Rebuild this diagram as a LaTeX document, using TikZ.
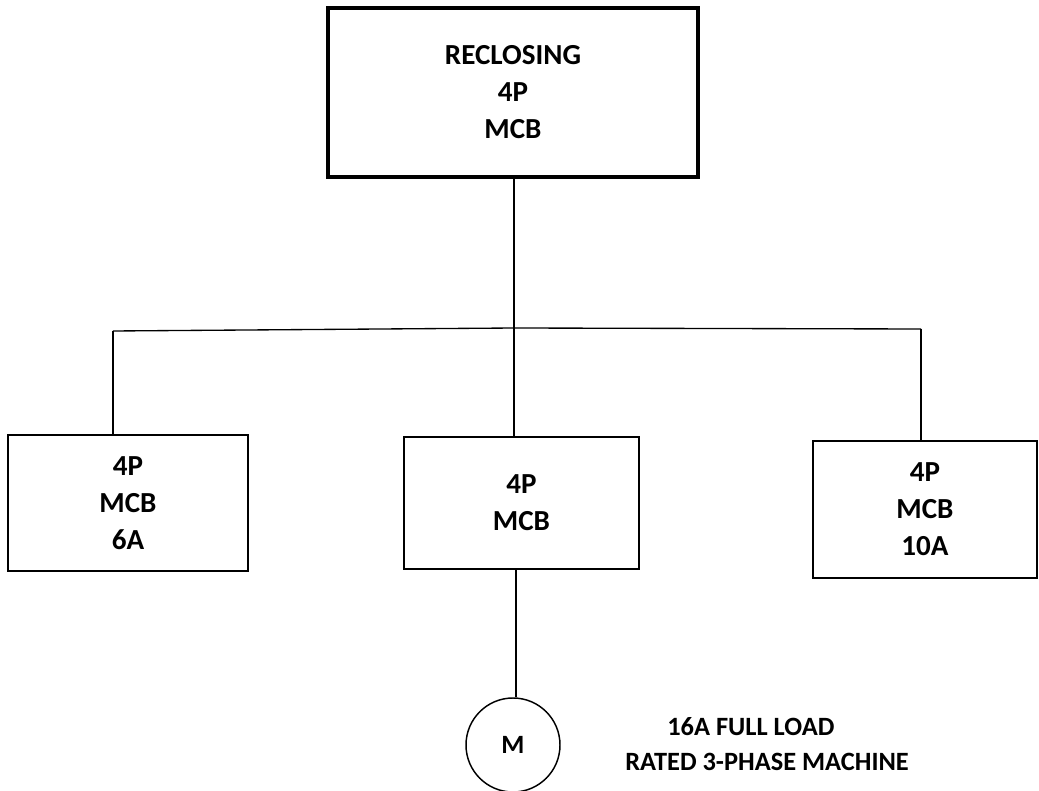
\documentclass[tikz,border=0pt]{standalone}
\usepackage{fontspec}
\setmainfont{Carlito}
\begin{document}
\begin{tikzpicture}[x=0.75pt,y=-0.75pt,
  lbl/.style={font=\bfseries\fontsize{19.8}{27.5}\selectfont,align=center},
  boxlbl/.style={font=\bfseries\fontsize{21.8}{27.8}\selectfont,align=center},
  box/.style={draw,line width=1.1pt,inner sep=0pt,boxlbl},
  mainbox/.style={box,line width=2.3pt},
  wire/.style={line width=1pt}]
\useasboundingbox (0,0) rectangle (1039,791);
\node[mainbox,minimum width=370*0.75pt,minimum height=169*0.75pt] (top) at (513,92.5) {RECLOSING\\4P\\MCB};
\node[box,minimum width=240*0.75pt,minimum height=136*0.75pt] (left) at (128,503) {4P\\MCB\\6A};
\node[box,minimum width=235*0.75pt,minimum height=132*0.75pt] (mid) at (521.5,503) {4P\\MCB};
\node[box,minimum width=224*0.75pt,minimum height=137*0.75pt] (right) at (925,509.5) {4P\\MCB\\10A};
\node[draw,circle,line width=1.1pt,minimum size=94*0.75pt,inner sep=0pt,lbl] (motor) at (513,745) {M};
\node[lbl,anchor=west,inner sep=0pt] (t1) at (667,727) {16A FULL LOAD};
\node[lbl,anchor=west,inner sep=0pt] (t2) at (625,762) {RATED 3-PHASE MACHINE};
\coordinate (bl) at (113,331);
\coordinate (bm) at (514,328);
\coordinate (br) at (921,329);
\draw[wire] (bl) -- (bm) -- (br);
\draw[wire] (top.south -| bm) -- (bm);
\draw[wire] (bl) -- (bl |- left.north);
\draw[wire] (bm) -- (bm |- mid.north);
\draw[wire] (br) -- (br |- right.north);
\draw[wire] (mid.south -| 516,0) -- (motor.north -| 516,0);
\end{tikzpicture}
\end{document}
